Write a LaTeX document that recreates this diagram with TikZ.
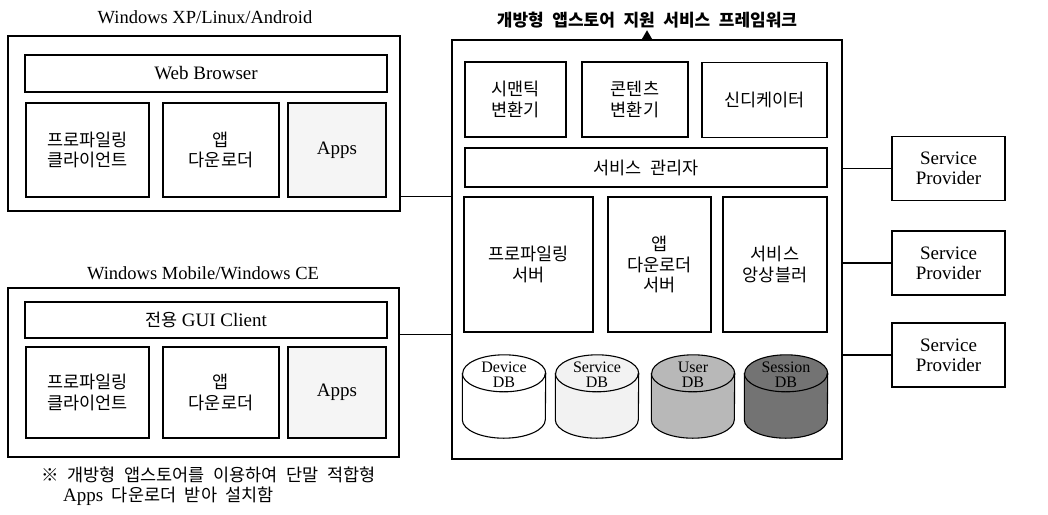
\documentclass[tikz,border=0pt]{standalone}
\usepackage{fontspec}
\setmainfont{Liberation Serif}
\newfontfamily\kr[WordSpace=2.2]{Noto Sans CJK KR}
\newcommand\ko{\kr\fontsize{17.5}{20.5}\selectfont}
\usetikzlibrary{shapes.geometric}

\begin{document}
\begin{tikzpicture}[
    x = 1pt, y = -1pt,
    font = \fontsize{19}{20}\selectfont,
    blk/.style = {draw, line width=1.1pt, align=center, inner sep=0pt},
    wh/.style 2 args = {minimum width=#1pt, minimum height=#2pt},
    ko/.style = {font=\ko},
    ttl/.style = {font=\fontsize{18.5}{20}\selectfont},
    dbbox/.style = {minimum width=83pt, minimum height=83pt, inner sep=0pt},
    dbcap/.style = {x radius=41.5pt, y radius=18.5pt},
    dblbl/.style = {align=center, inner sep=0pt, font=\fontsize{16}{14.5}\selectfont},
    link/.style = {line width=1.1pt},
  ]
  \useasboundingbox (0,0) rectangle (1048,514);

  \node[ttl] (t1) at (205,17) {Windows XP/Linux/Android};
  \node[blk, wh={392}{175}] (dev1) at (204,123.5) {};
  \node[blk, wh={362}{37}] (web) at (206,73.5) {Web Browser};
  \node[blk, ko, wh={123}{94}] (prof1) at (87.5,150) {프로파일링\\클라이언트};
  \node[blk, ko, wh={116}{94}] (dl1) at (221,150) {앱\\다운로더};
  \node[blk, fill=black!4, wh={98}{94}] (apps1) at (337,150) {Apps};

  \node[ttl] (t2) at (203,273) {Windows Mobile/Windows CE};
  \node[blk, wh={391}{169}] (dev2) at (203.5,372.5) {};
  \node[blk, wh={362}{36}] (gui) at (206,320) {{\ko 전용} GUI Client};
  \node[blk, ko, wh={123}{91}] (prof2) at (87.5,392.5) {프로파일링\\클라이언트};
  \node[blk, ko, wh={116}{91}] (dl2) at (221,392.5) {앱\\다운로더};
  \node[blk, fill=black!4, wh={98}{91}] (apps2) at (337,392.5) {Apps};
  \node[anchor=west, align=left, inner sep=0pt] (note) at (41,486)
    {{\ko ※ 개방형 앱스토어를 이용하여 단말 적합형}\\\hspace*{22pt}Apps{\ko\ 다운로더 받아 설치함}};

  \node[font=\kr\fontsize{17}{19}\selectfont\bfseries] (fwt) at (647,20) {개방형 앱스토어 지원 서비스 프레임워크};
  \node[blk, wh={390}{419}] (fw) at (647,249.5) {};
  \node[fill, regular polygon, regular polygon sides=3, inner sep=0pt, minimum size=14pt,
        anchor=south] (tri) at ([yshift=-1.5pt]fw.north) {};
  \node[blk, ko, wh={101}{75}] (sem) at (515.5,99.5) {시맨틱\\변환기};
  \node[blk, ko, wh={106}{75}] (cont) at (635,99.5) {콘텐츠\\변환기};
  \node[blk, ko, wh={125}{75}] (synd) at (764.5,100) {신디케이터};
  \node[blk, ko, wh={362}{39}] (mgr) at (646,167.5) {서비스 관리자};
  \node[blk, ko, wh={129}{135}] (psv) at (528.5,264.5) {프로파일링\\서버};
  \node[blk, ko, wh={103}{135}] (dsv) at (659.5,264.5) {앱\\다운로더\\서버};
  \node[blk, ko, wh={104}{135}] (ens) at (775,264.5) {서비스\\앙상블러};

  \foreach \n/\x/\c/\t in {ddb/504/white/Device, sdb/597/black!5/Service,
                           udb/693/black!28/User, xdb/786/black!55/Session} {
    \node[dbbox] (\n) at (\x,396.5) {};
    \filldraw[link, fill=\c] ([yshift=-18.5pt]\n.north west) -- ([yshift=18.5pt]\n.south west)
      arc[dbcap, start angle=180, end angle=360] -- ([yshift=-18.5pt]\n.north east)
      arc[dbcap, start angle=0, end angle=180] -- cycle;
    \draw[link] ([yshift=-18.5pt]\n.north west) arc[dbcap, start angle=180, end angle=360];
    \node[dblbl] (\n l) at ([yshift=-20pt]\n.north) {\t\\DB};
  }

  \node[blk, wh={113}{64}] (sp1) at (948.5,168.5) {Service\\Provider};
  \node[blk, wh={113}{64}] (sp2) at (948.5,263) {Service\\Provider};
  \node[blk, wh={113}{64}] (sp3) at (948.5,355) {Service\\Provider};

  \draw[link] (sp1.west) -- (sp1.west -| fw.east);
  \draw[link] (sp2.west) -- (sp2.west -| fw.east);
  \draw[link] (sp3.west) -- (sp3.west -| fw.east);
  \coordinate (c1) at ([yshift=15pt]dev1.south east);
  \draw[link] (c1) -- (c1 -| fw.west);
  \coordinate (c2) at ([yshift=-47pt]dev2.north east);
  \draw[link] (c2) -- (c2 -| fw.west);
\end{tikzpicture}
\end{document}
